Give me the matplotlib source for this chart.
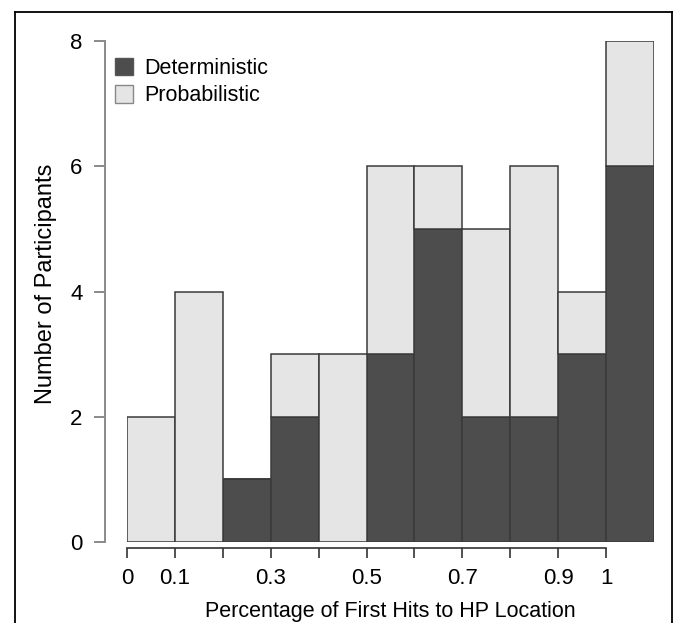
import numpy as np
import matplotlib.pyplot as plt
from matplotlib.patches import Patch
from matplotlib.lines import Line2D

plt.rcParams['font.family'] = ['Liberation Sans', 'DejaVu Sans']

bin_left = [0.0, 0.1, 0.2, 0.3, 0.4, 0.5, 0.6, 0.7, 0.8, 0.9, 1.0]
deterministic = [0, 0, 1, 2, 0, 3, 5, 2, 2, 3, 6]
probabilistic = [2, 4, 0, 1, 3, 3, 1, 3, 4, 1, 2]

x_ticks = [0.0, 0.1, 0.2, 0.3, 0.4, 0.5, 0.6, 0.7, 0.8, 0.9, 1.0]
x_labels = ["0", "0.1", "", "0.3", "", "0.5", "", "0.7", "", "0.9", "1"]
y_ticks = [0, 2, 4, 6, 8]

dark = "#4d4d4d"
light = "#e5e5e5"
edge = "#3a3a3a"

W, H = 673, 623
fig = plt.figure(figsize=(W / 100, H / 100), dpi=100)
ax = fig.add_axes([127 / W, 1 - 542 / H, (654 - 127) / W, (542 - 41) / H])

ax.bar(bin_left, deterministic, width=0.1, align="edge",
       color=dark, edgecolor=edge, linewidth=1.1)
ax.bar(bin_left, probabilistic, width=0.1, align="edge", bottom=deterministic,
       color=light, edgecolor=edge, linewidth=1.1)

ax.set_xlim(0, 1.1)
ax.set_ylim(0, 8)

for s in ["top", "right"]:
    ax.spines[s].set_visible(False)
ax.spines["left"].set_position(("outward", 16))
ax.spines["left"].set_bounds(0, 8)
ax.spines["left"].set_color("#8a8a8a")
ax.spines["left"].set_linewidth(1.4)
ax.spines["bottom"].set_position(("outward", 4))
ax.spines["bottom"].set_bounds(0, 1)
ax.spines["bottom"].set_color("#333333")
ax.spines["bottom"].set_linewidth(1.2)

ax.set_xticks(x_ticks)
ax.set_xticklabels(x_labels)
ax.set_yticks(y_ticks)
ax.tick_params(axis="y", length=8, width=1.4, color="#8a8a8a", labelsize=16, pad=8)
ax.tick_params(axis="x", length=7.5, width=1.2, color="#333333", labelsize=16, pad=7.5)

ax.set_xlabel("Percentage of First Hits to HP Location", fontsize=15.5)
ax.xaxis.set_label_coords(0.5, (542 - 601) / 501)
ax.set_ylabel("Number of Participants", fontsize=17)
ax.yaxis.set_label_coords((57 - 127) / 527, (542 - 283.5) / 501)

handles = [Patch(facecolor=dark, edgecolor="#555555", linewidth=1.0, label="Deterministic"),
           Patch(facecolor=light, edgecolor="#888888", linewidth=1.0, label="Probabilistic")]
ax.legend(handles=handles, loc="upper left", bbox_to_anchor=(114.5 / W, 1 - 58 / H),
          bbox_transform=fig.transFigure, frameon=False, fontsize=15.5,
          handlelength=0.88, handleheight=0.84, handletextpad=0.51,
          labelspacing=0.3, borderaxespad=0, borderpad=0)

# open box around the panel
frame = dict(color="black", linewidth=1.3, transform=fig.transFigure)
fig.add_artist(Line2D([15 / W, 15 / W], [0, 1 - 12 / H], **frame))
fig.add_artist(Line2D([15 / W, 672 / W], [1 - 12 / H, 1 - 12 / H], **frame))
fig.add_artist(Line2D([672 / W, 672 / W], [0, 1 - 12 / H], **frame))

fig.savefig("out.png", dpi=100)
